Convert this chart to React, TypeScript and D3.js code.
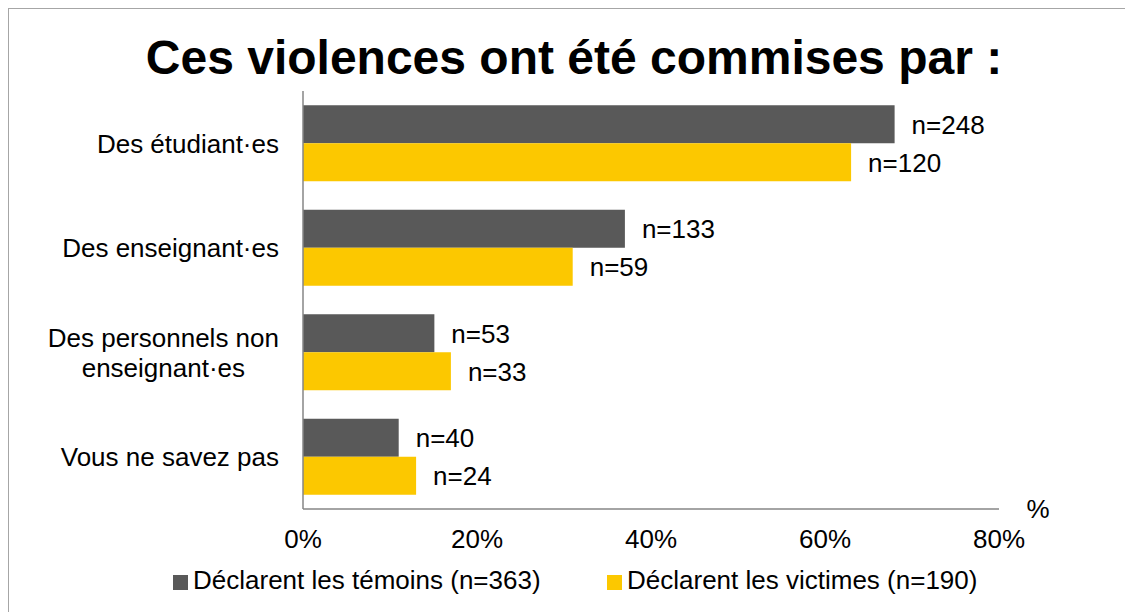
import React, { useEffect, useRef } from "react";
import * as d3 from "d3";

const title = "Ces violences ont été commises par :";
const categories = [
  ["Des étudiant·es"],
  ["Des enseignant·es"],
  ["Des personnels non", "enseignant·es"],
  ["Vous ne savez pas"],
];
const seriesNames = ["Déclarent les témoins (n=363)", "Déclarent les victimes (n=190)"];
const temoinsPct = [68.0, 37.0, 15.1, 11.0];
const victimesPct = [63.0, 31.0, 17.0, 13.0];
const temoinsN = [248, 133, 53, 40];
const victimesN = [120, 59, 33, 24];
const xTicks = [0, 20, 40, 60, 80];
const colors = ["#595959", "#FCC800"];

const W = 1125;
const H = 612;
const FONT = "'Liberation Sans', Arial, sans-serif";

export default function App() {
  const ref = useRef<SVGSVGElement>(null);

  useEffect(() => {
    const svg = d3.select(ref.current);
    svg.selectAll("*").remove();

    const left = 303, right = 999, top = 91, bottom = 509;

    const x = d3.scaleLinear().domain([0, 80]).range([left, right]);
    const keys = categories.map((c) => c.join(" "));
    const y = d3
      .scaleBand<string>()
      .domain(keys)
      .range([top, bottom])
      .paddingInner(28.5 / 104.5)
      .paddingOuter(14.25 / 104.5);
    const ys = d3.scaleBand<number>().domain([0, 1]).range([0, y.bandwidth()]);

    // frame
    svg
      .append("rect")
      .attr("x", 8.5)
      .attr("y", 8.5)
      .attr("width", 1300)
      .attr("height", 800)
      .attr("fill", "white")
      .attr("stroke", "#a6a6a6")
      .attr("stroke-width", 1);

    // title
    svg
      .append("text")
      .attr("x", 574)
      .attr("y", 74)
      .attr("text-anchor", "middle")
      .attr("font-family", FONT)
      .attr("font-weight", "bold")
      .attr("font-size", 48)
      .attr("fill", "#000")
      .text(title);

    const data = categories.map((c, i) => ({
      key: keys[i],
      vals: [temoinsPct[i], victimesPct[i]],
      ns: [temoinsN[i], victimesN[i]],
    }));

    const g = svg.append("g");
    data.forEach((d) => {
      d.vals.forEach((v, s) => {
        const y0 = (y(d.key) as number) + (ys(s) as number);
        g.append("rect")
          .attr("x", x(0))
          .attr("y", y0)
          .attr("width", x(v) - x(0))
          .attr("height", ys.bandwidth())
          .attr("fill", colors[s]);
        g.append("text")
          .attr("x", x(v) + 17)
          .attr("y", y0 + ys.bandwidth() / 2)
          .attr("dy", "0.36em")
          .attr("font-family", FONT)
          .attr("font-size", 26)
          .attr("fill", "#000")
          .text(`n=${d.ns[s]}`);
      });
    });

    // axes lines
    svg
      .append("line")
      .attr("x1", left)
      .attr("x2", left)
      .attr("y1", top)
      .attr("y2", bottom)
      .attr("stroke", "#868686")
      .attr("stroke-width", 1.5);
    svg
      .append("line")
      .attr("x1", left)
      .attr("x2", right)
      .attr("y1", bottom)
      .attr("y2", bottom)
      .attr("stroke", "#868686")
      .attr("stroke-width", 1.5);

    // x tick labels
    xTicks.forEach((t) => {
      svg
        .append("text")
        .attr("x", x(t))
        .attr("y", 548)
        .attr("text-anchor", "middle")
        .attr("font-family", FONT)
        .attr("font-size", 26)
        .attr("fill", "#000")
        .text(`${t}%`);
    });
    svg
      .append("text")
      .attr("x", 1038)
      .attr("y", 518)
      .attr("text-anchor", "middle")
      .attr("font-family", FONT)
      .attr("font-size", 26)
      .attr("fill", "#000")
      .text("%");

    // category labels
    categories.forEach((lines, i) => {
      const cy = (y(keys[i]) as number) + y.bandwidth() / 2;
      const labelRight = 279;
      const lh = 30;
      const t = svg
        .append("text")
        .attr("font-family", FONT)
        .attr("font-size", 26)
        .attr("fill", "#000");
      const spans = lines.map((ln, j) =>
        t
          .append("tspan")
          .attr("y", cy + (j - (lines.length - 1) / 2) * lh)
          .attr("dy", "0.36em")
          .text(ln)
      );
      const widths = spans.map((s) => (s.node() as SVGTSpanElement).getComputedTextLength());
      const maxW = d3.max(widths) as number;
      const cx = labelRight - maxW / 2;
      spans.forEach((s) => s.attr("x", cx).attr("text-anchor", "middle"));
    });

    // legend
    const legendX = [173, 607];
    seriesNames.forEach((name, s) => {
      svg
        .append("rect")
        .attr("x", legendX[s])
        .attr("y", 575)
        .attr("width", 15)
        .attr("height", 15)
        .attr("fill", colors[s]);
      svg
        .append("text")
        .attr("x", legendX[s] + 20)
        .attr("y", 589)
        .attr("font-family", FONT)
        .attr("font-size", 26)
        .attr("fill", "#000")
        .text(name);
    });
  }, []);

  return (
    <svg
      ref={ref}
      width={W}
      height={H}
      style={{ position: "absolute", left: 0, top: 0, display: "block" }}
    />
  );
}
